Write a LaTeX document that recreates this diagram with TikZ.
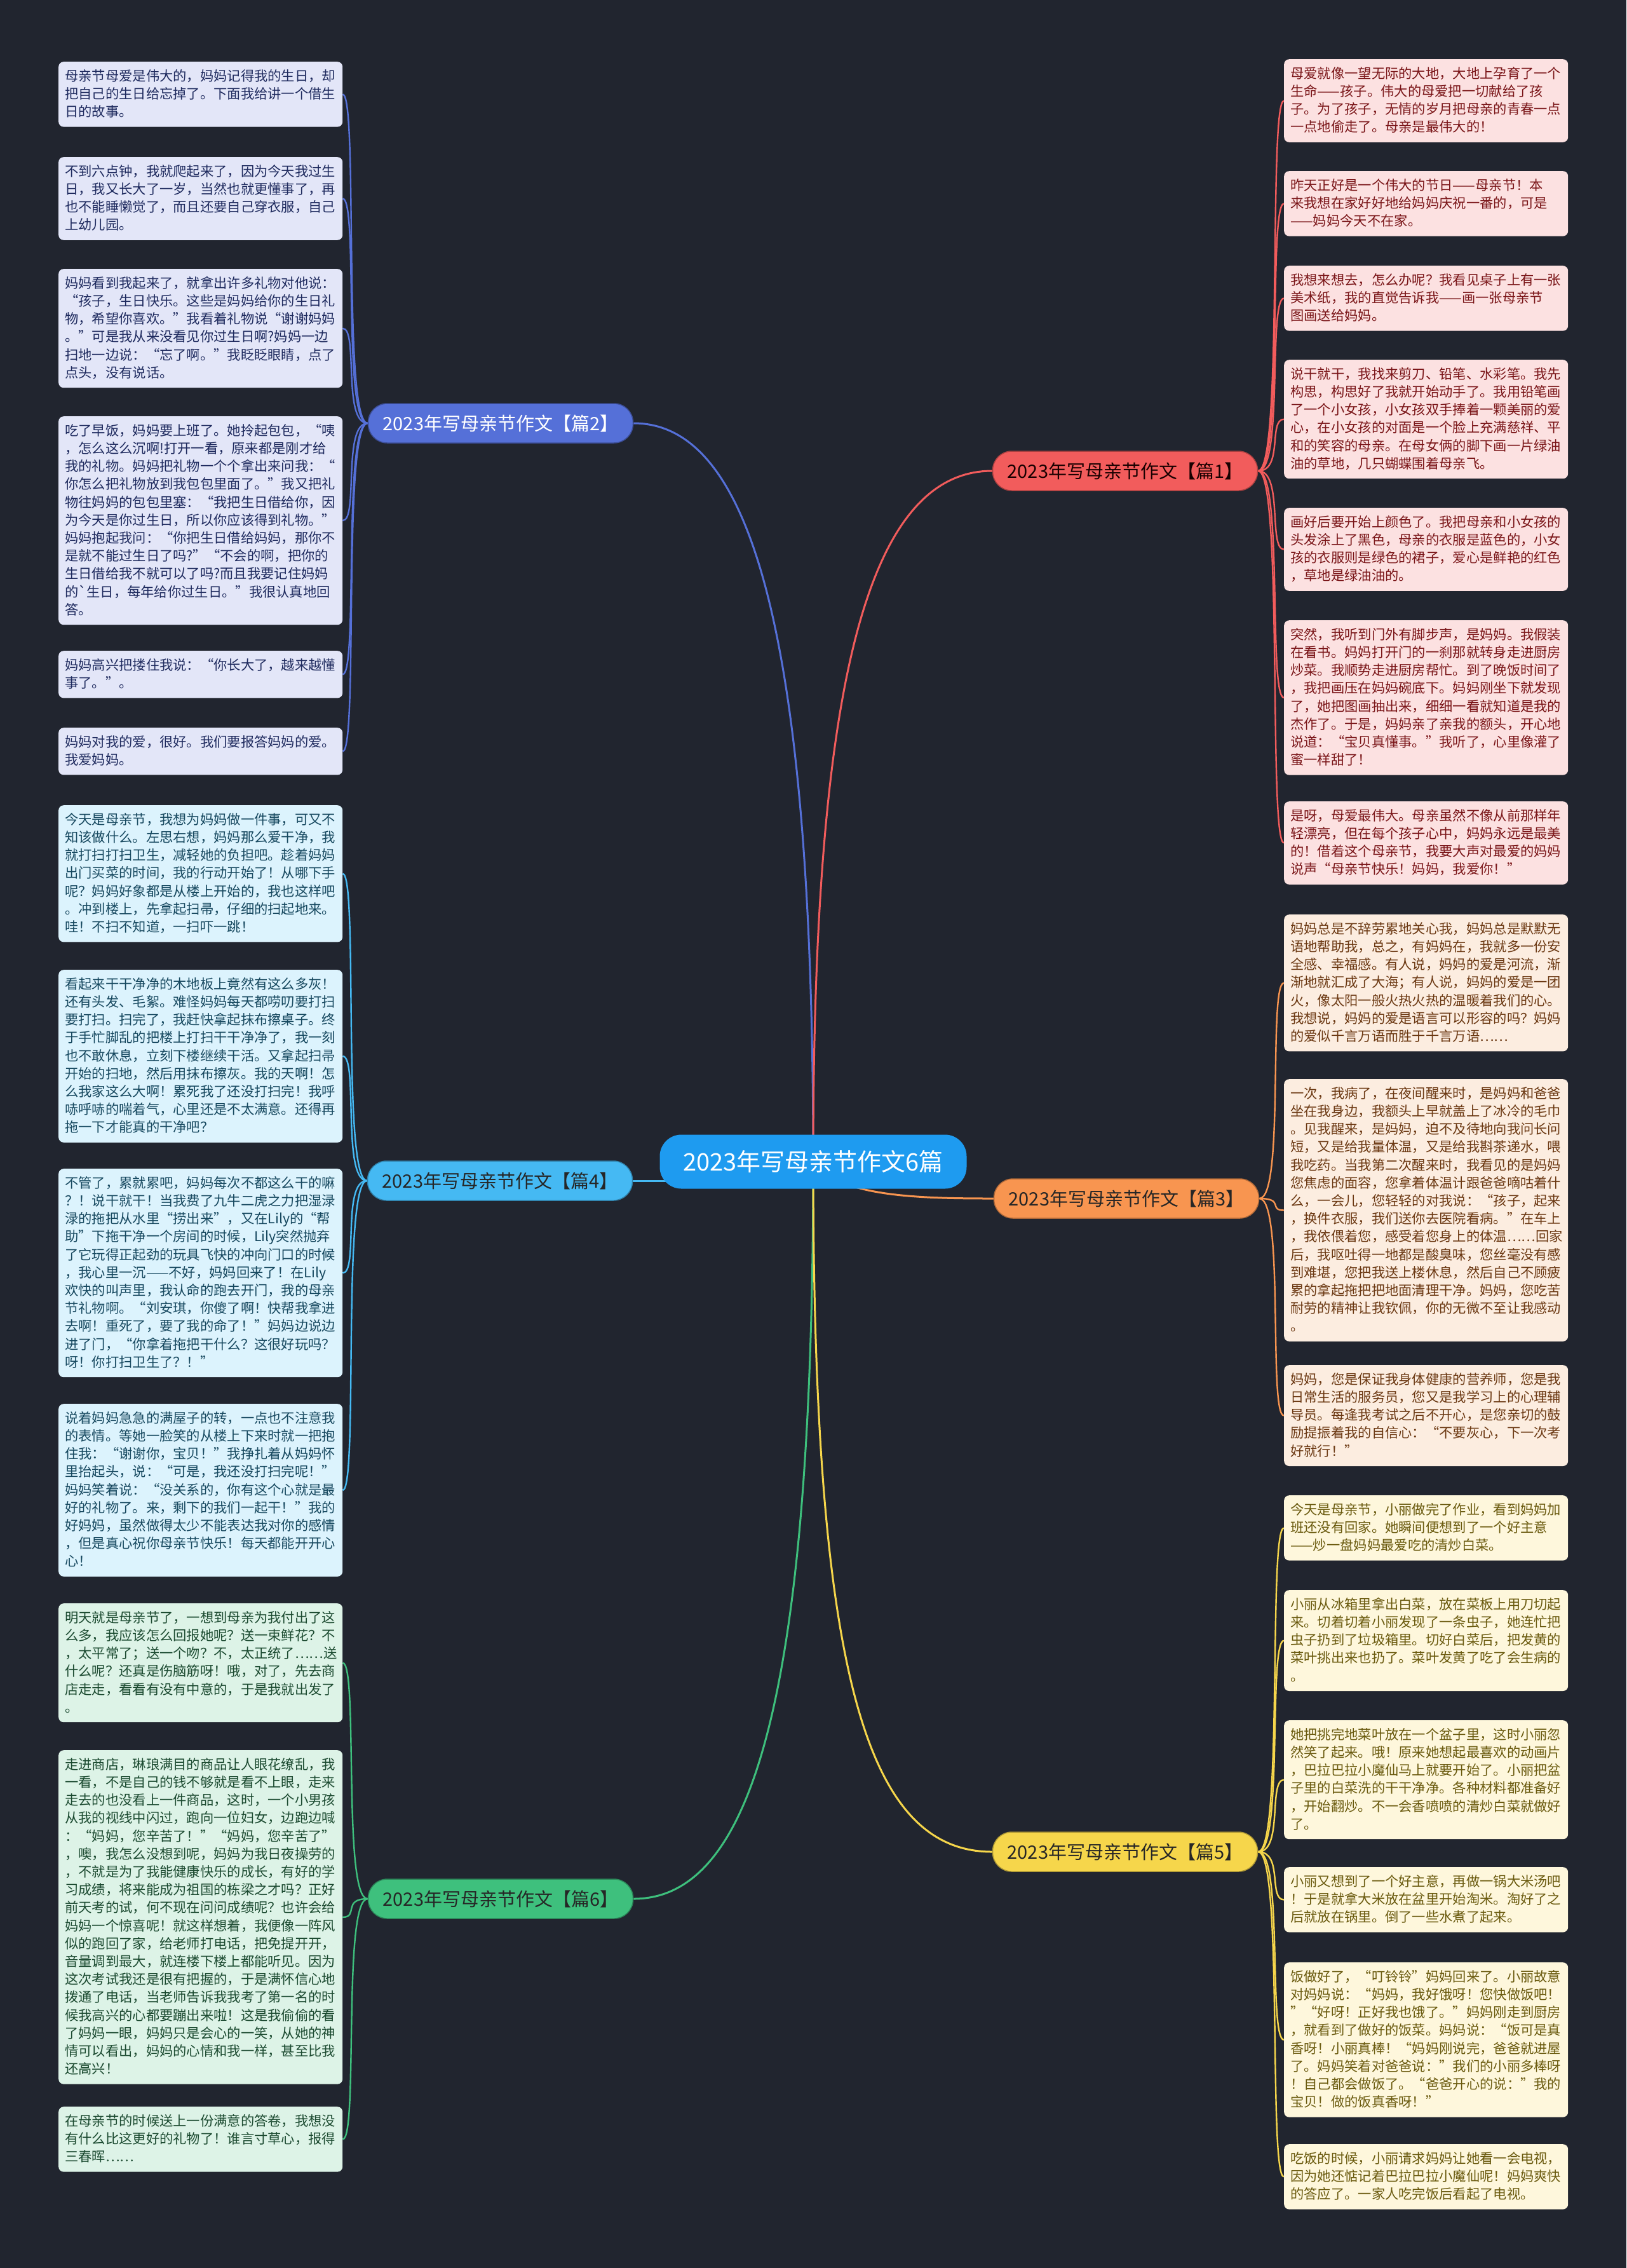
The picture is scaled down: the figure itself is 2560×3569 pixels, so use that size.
\documentclass[tikz,border=0pt]{standalone}
\usepackage{fontspec}
\usepackage{tikz}
\usetikzlibrary{backgrounds}
\newfontfamily\cjk{Noto Sans CJK SC}
\exhyphenpenalty=10000
\hyphenpenalty=10000

\definecolor{bgdark}{HTML}{21252F}
\definecolor{hubblue}{HTML}{1E9BF0}
\definecolor{col1}{HTML}{F25C5C}\definecolor{paper1}{HTML}{FCE1E1}\definecolor{ink1}{HTML}{7A1518}
\definecolor{col2}{HTML}{5570D8}\definecolor{paper2}{HTML}{E3E6F8}\definecolor{ink2}{HTML}{1E2A5E}
\definecolor{col3}{HTML}{F89550}\definecolor{paper3}{HTML}{FCEDE0}\definecolor{ink3}{HTML}{6B3812}
\definecolor{col4}{HTML}{45B9F3}\definecolor{paper4}{HTML}{DCF3FD}\definecolor{ink4}{HTML}{16485F}
\definecolor{col5}{HTML}{F6D64B}\definecolor{paper5}{HTML}{FEF7DC}\definecolor{ink5}{HTML}{6A5A0E}
\definecolor{col6}{HTML}{3EC07D}\definecolor{paper6}{HTML}{DDF3E7}\definecolor{ink6}{HTML}{1B4A30}

\newcommand\leaffont{\cjk\fontsize{21.3}{28.2}\selectfont}
\newcommand\branchfont{\cjk\fontsize{29}{31}\selectfont}
\newcommand\hubfont{\cjk\fontsize{38}{40}\selectfont}

\tikzset{
  leaf/.style={fill=#1, rounded corners=8pt, anchor=north west, align=left,
    text width=427pt, inner xsep=10pt, inner ysep=10pt, font=\leaffont,
    execute at begin node={\rule{0pt}{20pt}},
    execute at end node={\rule[-6pt]{0pt}{6pt}}},
  leaf1/.style={leaf=paper1, text=ink1},
  leaf2/.style={leaf=paper2, text=ink2},
  leaf3/.style={leaf=paper3, text=ink3},
  leaf4/.style={leaf=paper4, text=ink4},
  leaf5/.style={leaf=paper5, text=ink5},
  leaf6/.style={leaf=paper6, text=ink6},
  branch/.style={fill=#1, draw=#1!70!black, line width=1.5pt, rounded corners=30pt,
    minimum width=417pt, minimum height=62pt, inner sep=0pt, font=\branchfont,
    text=black!85},
  hub/.style={fill=hubblue, text=white, rounded corners=34pt,
    minimum width=483pt, minimum height=85pt, font=\hubfont},
  trunk/.style={line width=3pt},
  twig/.style={line width=2.4pt}
}

\begin{document}
\begin{tikzpicture}[x=1pt, y=-1pt]
  \useasboundingbox (0,0) rectangle (2560,3569);

  % centre and the six essays
  \node[hub] (ctr) at (1280,1828) {2023年写母亲节作文6篇};
  \node[branch=col1, text=black!90!red] (p1) at (1771,741) {2023年写母亲节作文【篇1】};
  \node[branch=col2, text=white] (p2) at (788,666) {2023年写母亲节作文【篇2】};
  \node[branch=col3] (p3) at (1773,1886) {2023年写母亲节作文【篇3】};
  \node[branch=col4] (p4) at (787,1858) {2023年写母亲节作文【篇4】};
  \node[branch=col5] (p5) at (1771,2914) {2023年写母亲节作文【篇5】};
  \node[branch=col6] (p6) at (788,2988) {2023年写母亲节作文【篇6】};

  % left column
  \foreach \i/\y/\txt in {
    1/97/{母亲节母爱是伟大的，妈妈记得我的生日，却\\把自己的生日给忘掉了。下面我给讲一个借生\\日的故事。},
    2/247/{不到六点钟，我就爬起来了，因为今天我过生\\日，我又长大了一岁，当然也就更懂事了，再\\也不能睡懒觉了，而且还要自己穿衣服，自己\\上幼儿园。},
    3/423/{妈妈看到我起来了，就拿出许多礼物对他说：\\“孩子，生日快乐。这些是妈妈给你的生日礼\\物，希望你喜欢。”我看着礼物说“谢谢妈妈\\。”可是我从来没看见你过生日啊?妈妈一边\\扫地一边说：“忘了啊。”我眨眨眼睛，点了\\点头，没有说话。},
    4/655/{吃了早饭，妈妈要上班了。她拎起包包，“咦\\，怎么这么沉啊!打开一看，原来都是刚才给\\我的礼物。妈妈把礼物一个个拿出来问我：“\\你怎么把礼物放到我包包里面了。”我又把礼\\物往妈妈的包包里塞：“我把生日借给你，因\\为今天是你过生日，所以你应该得到礼物。”\\妈妈抱起我问：“你把生日借给妈妈，那你不\\是就不能过生日了吗?”“不会的啊，把你的\\生日借给我不就可以了吗?而且我要记住妈妈\\的`生日，每年给你过生日。”我很认真地回\\答。},
    5/1024/{妈妈高兴把搂住我说：“你长大了，越来越懂\\事了。”。},
    6/1145/{妈妈对我的爱，很好。我们要报答妈妈的爱。\\我爱妈妈。}}
    \node[leaf2] (p2-\i) at (92,\y) {\txt};

  \foreach \i/\y/\txt in {
    1/1267/{今天是母亲节，我想为妈妈做一件事，可又不\\知该做什么。左思右想，妈妈那么爱干净，我\\就打扫打扫卫生，减轻她的负担吧。趁着妈妈\\出门买菜的时间，我的行动开始了！从哪下手\\呢？妈妈好象都是从楼上开始的，我也这样吧\\。冲到楼上，先拿起扫帚，仔细的扫起地来。\\哇！不扫不知道，一扫吓一跳！},
    2/1526/{看起来干干净净的木地板上竟然有这么多灰！\\还有头发、毛絮。难怪妈妈每天都唠叨要打扫\\要打扫。扫完了，我赶快拿起抹布擦桌子。终\\于手忙脚乱的把楼上打扫干干净净了，我一刻\\也不敢休息，立刻下楼继续干活。又拿起扫帚\\开始的扫地，然后用抹布擦灰。我的天啊！怎\\么我家这么大啊！累死我了还没打扫完！我呼\\哧呼哧的喘着气，心里还是不太满意。还得再\\拖一下才能真的干净吧？},
    3/1839/{不管了，累就累吧，妈妈每次不都这么干的嘛\\？！说干就干！当我费了九牛二虎之力把湿渌\\渌的拖把从水里“捞出来”，又在Lily的“帮\\助”下拖干净一个房间的时候，Lily突然抛弃\\了它玩得正起劲的玩具飞快的冲向门口的时候\\，我心里一沉——不好，妈妈回来了！在Lily\\欢快的叫声里，我认命的跑去开门，我的母亲\\节礼物啊。“刘安琪，你傻了啊！快帮我拿进\\去啊！重死了，要了我的命了！”妈妈边说边\\进了门，“你拿着拖把干什么？这很好玩吗？\\呀！你打扫卫生了？！”},
    4/2209/{说着妈妈急急的满屋子的转，一点也不注意我\\的表情。等她一脸笑的从楼上下来时就一把抱\\住我：“谢谢你，宝贝！”我挣扎着从妈妈怀\\里抬起头，说：“可是，我还没打扫完呢！”\\妈妈笑着说：“没关系的，你有这个心就是最\\好的礼物了。来，剩下的我们一起干！”我的\\好妈妈，虽然做得太少不能表达我对你的感情\\，但是真心祝你母亲节快乐！每天都能开开心\\心！}}
    \node[leaf4] (p4-\i) at (92,\y) {\txt};

  \foreach \i/\y/\txt in {
    1/2523/{明天就是母亲节了，一想到母亲为我付出了这\\么多，我应该怎么回报她呢？送一束鲜花？不\\，太平常了；送一个吻？不，太正统了……送\\什么呢？还真是伤脑筋呀！哦，对了，先去商\\店走走，看看有没有中意的，于是我就出发了\\。},
    2/2754/{走进商店，琳琅满目的商品让人眼花缭乱，我\\一看，不是自己的钱不够就是看不上眼，走来\\走去的也没看上一件商品，这时，一个小男孩\\从我的视线中闪过，跑向一位妇女，边跑边喊\\：“妈妈，您辛苦了！”“妈妈，您辛苦了”\\，噢，我怎么没想到呢，妈妈为我日夜操劳的\\，不就是为了我能健康快乐的成长，有好的学\\习成绩，将来能成为祖国的栋梁之才吗？正好\\前天考的试，何不现在问问成绩呢？也许会给\\妈妈一个惊喜呢！就这样想着，我便像一阵风\\似的跑回了家，给老师打电话，把免提开开，\\音量调到最大，就连楼下楼上都能听见。因为\\这次考试我还是很有把握的，于是满怀信心地\\拨通了电话，当老师告诉我我考了第一名的时\\候我高兴的心都要蹦出来啦！这是我偷偷的看\\了妈妈一眼，妈妈只是会心的一笑，从她的神\\情可以看出，妈妈的心情和我一样，甚至比我\\还高兴！},
    3/3315/{在母亲节的时候送上一份满意的答卷，我想没\\有什么比这更好的礼物了！谁言寸草心，报得\\三春晖……}}
    \node[leaf6] (p6-\i) at (92,\y) {\txt};

  % right column
  \foreach \i/\y/\txt in {
    1/93/{母爱就像一望无际的大地，大地上孕育了一个\\生命——孩子。伟大的母爱把一切献给了孩\\子。为了孩子，无情的岁月把母亲的青春一点\\一点地偷走了。母亲是最伟大的！},
    2/269/{昨天正好是一个伟大的节日——母亲节！本\\来我想在家好好地给妈妈庆祝一番的，可是\\——妈妈今天不在家。},
    3/418/{我想来想去，怎么办呢？我看见桌子上有一张\\美术纸，我的直觉告诉我——画一张母亲节\\图画送给妈妈。},
    4/566/{说干就干，我找来剪刀、铅笔、水彩笔。我先\\构思，构思好了我就开始动手了。我用铅笔画\\了一个小女孩，小女孩双手捧着一颗美丽的爱\\心，在小女孩的对面是一个脸上充满慈祥、平\\和的笑容的母亲。在母女俩的脚下画一片绿油\\油的草地，几只蝴蝶围着母亲飞。},
    5/799/{画好后要开始上颜色了。我把母亲和小女孩的\\头发涂上了黑色，母亲的衣服是蓝色的，小女\\孩的衣服则是绿色的裙子，爱心是鲜艳的红色\\，草地是绿油油的。},
    6/976/{突然，我听到门外有脚步声，是妈妈。我假装\\在看书。妈妈打开门的一刹那就转身走进厨房\\炒菜。我顺势走进厨房帮忙。到了晚饭时间了\\，我把画压在妈妈碗底下。妈妈刚坐下就发现\\了，她把图画抽出来，细细一看就知道是我的\\杰作了。于是，妈妈亲了亲我的额头，开心地\\说道：“宝贝真懂事。”我听了，心里像灌了\\蜜一样甜了！},
    7/1261/{是呀，母爱最伟大。母亲虽然不像从前那样年\\轻漂亮，但在每个孩子心中，妈妈永远是最美\\的！借着这个母亲节，我要大声对最爱的妈妈\\说声“母亲节快乐！妈妈，我爱你！”}}
    \node[leaf1] (p1-\i) at (2021,\y) {\txt};

  \foreach \i/\y/\txt in {
    1/1439/{妈妈总是不辞劳累地关心我，妈妈总是默默无\\语地帮助我，总之，有妈妈在，我就多一份安\\全感、幸福感。有人说，妈妈的爱是河流，渐\\渐地就汇成了大海；有人说，妈妈的爱是一团\\火，像太阳一般火热火热的温暖着我们的心。\\我想说，妈妈的爱是语言可以形容的吗？妈妈\\的爱似千言万语而胜于千言万语……},
    2/1698/{一次，我病了，在夜间醒来时，是妈妈和爸爸\\坐在我身边，我额头上早就盖上了冰冷的毛巾\\。见我醒来，是妈妈，迫不及待地向我问长问\\短，又是给我量体温，又是给我斟茶递水，喂\\我吃药。当我第二次醒来时，我看见的是妈妈\\您焦虑的面容，您拿着体温计跟爸爸嘀咕着什\\么，一会儿，您轻轻的对我说：“孩子，起来\\，换件衣服，我们送你去医院看病。”在车上\\，我依偎着您，感受着您身上的体温……回家\\后，我呕吐得一地都是酸臭味，您丝毫没有感\\到难堪，您把我送上楼休息，然后自己不顾疲\\累的拿起拖把把地面清理干净。妈妈，您吃苦\\耐劳的精神让我钦佩，你的无微不至让我感动\\。},
    3/2148/{妈妈，您是保证我身体健康的营养师，您是我\\日常生活的服务员，您又是我学习上的心理辅\\导员。每逢我考试之后不开心，是您亲切的鼓\\励提振着我的自信心：“不要灰心，下一次考\\好就行！”}}
    \node[leaf3] (p3-\i) at (2021,\y) {\txt};

  \foreach \i/\y/\txt in {
    1/2353/{今天是母亲节，小丽做完了作业，看到妈妈加\\班还没有回家。她瞬间便想到了一个好主意\\——炒一盘妈妈最爱吃的清炒白菜。},
    2/2502/{小丽从冰箱里拿出白菜，放在菜板上用刀切起\\来。切着切着小丽发现了一条虫子，她连忙把\\虫子扔到了垃圾箱里。切好白菜后，把发黄的\\菜叶挑出来也扔了。菜叶发黄了吃了会生病的\\。},
    3/2707/{她把挑完地菜叶放在一个盆子里，这时小丽忽\\然笑了起来。哦！原来她想起最喜欢的动画片\\，巴拉巴拉小魔仙马上就要开始了。小丽把盆\\子里的白菜洗的干干净净。各种材料都准备好\\，开始翻炒。不一会香喷喷的清炒白菜就做好\\了。},
    4/2938/{小丽又想到了一个好主意，再做一锅大米汤吧\\！于是就拿大米放在盆里开始淘米。淘好了之\\后就放在锅里。倒了一些水煮了起来。},
    5/3088/{饭做好了，“叮铃铃”妈妈回来了。小丽故意\\对妈妈说：“妈妈，我好饿呀！您快做饭吧！\\”“好呀！正好我也饿了。”妈妈刚走到厨房\\，就看到了做好的饭菜。妈妈说：“饭可是真\\香呀！小丽真棒！“妈妈刚说完，爸爸就进屋\\了。妈妈笑着对爸爸说：”我们的小丽多棒呀\\！自己都会做饭了。“爸爸开心的说：”我的\\宝贝！做的饭真香呀！”},
    6/3374/{吃饭的时候，小丽请求妈妈让她看一会电视，\\因为她还惦记着巴拉巴拉小魔仙呢！妈妈爽快\\的答应了。一家人吃完饭后看起了电视。}}
    \node[leaf5] (p5-\i) at (2021,\y) {\txt};

  \begin{scope}[on background layer]
    \fill[bgdark] (0,0) rectangle (2560,3569);

    % centre to essays
    \draw[trunk, col2] (ctr.center) .. controls +(0,-830) and +(185,0) .. (p2.east);
    \draw[trunk, col1] (ctr.center) .. controls +(0,-700) and +(-210,0) .. (p1.west);
    \draw[trunk, col4] (p4.east) -- (p4.east -| ctr.center);
    \draw[trunk, col3] (ctr.center) .. controls +(40,55) and +(-120,0) .. (p3.west);
    \draw[trunk, col6] (ctr.center) .. controls +(0,850) and +(185,0) .. (p6.east);
    \draw[trunk, col5] (ctr.center) .. controls +(0,800) and +(-200,0) .. (p5.west);

    % essays to paragraphs
    \foreach \i in {1,...,6}
      \draw[twig, col2] (p2.west) .. controls +(-40,0) and +(25,0) .. (p2-\i.east);
    \foreach \i in {1,...,4}
      \draw[twig, col4] (p4.west) .. controls +(-40,0) and +(25,0) .. (p4-\i.east);
    \foreach \i in {1,...,3}
      \draw[twig, col6] (p6.west) .. controls +(-40,0) and +(25,0) .. (p6-\i.east);
    \foreach \i in {1,...,7}
      \draw[twig, col1] (p1.east) .. controls +(40,0) and +(-25,0) .. (p1-\i.west);
    \foreach \i in {1,...,3}
      \draw[twig, col3] (p3.east) .. controls +(40,0) and +(-25,0) .. (p3-\i.west);
    \foreach \i in {1,...,6}
      \draw[twig, col5] (p5.east) .. controls +(40,0) and +(-25,0) .. (p5-\i.west);
  \end{scope}
\end{tikzpicture}
\end{document}
